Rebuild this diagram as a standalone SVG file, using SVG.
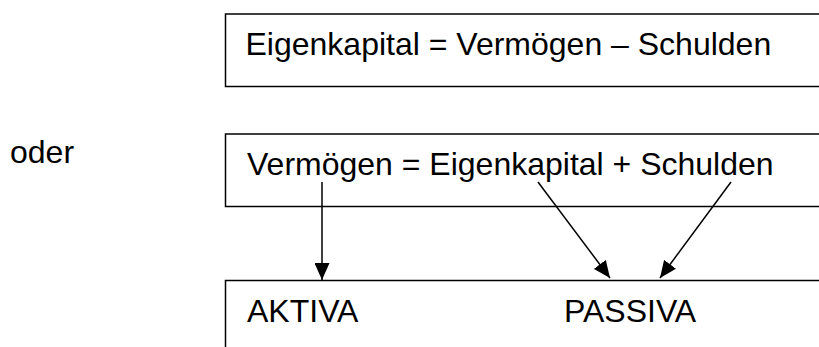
<svg xmlns="http://www.w3.org/2000/svg" width="819" height="347" viewBox="0 0 819 347">
<style>
.box{fill:#fff;stroke:#000;stroke-width:1.5}
.t{font-family:"Liberation Sans",Arial,sans-serif;font-size:32px;fill:#000}
.c{stroke:#000;stroke-width:1.5;fill:none}
</style>
<defs>
<marker id="ah" markerUnits="userSpaceOnUse" markerWidth="17" markerHeight="15" refX="17" refY="7.5" orient="auto" viewBox="0 0 17 15">
<path d="M0,0 L17,7.5 L0,15 z" fill="#000"/>
</marker>
</defs>
<rect width="819" height="347" fill="#fff"/>
<g id="eq1">
<rect class="box" x="225.5" y="14" width="620" height="72.5"/>
<text class="t" x="245.5" y="55">Eigenkapital = Vermögen – Schulden</text>
</g>
<g id="oder">
<text class="t" x="10" y="163">oder</text>
</g>
<g id="eq2">
<rect class="box" x="225.5" y="134" width="620" height="72.5"/>
<text class="t" x="247" y="175">Vermögen = Eigenkapital + Schulden</text>
</g>
<g id="bilanz">
<rect class="box" x="225.5" y="280.5" width="620" height="100"/>
<text class="t" x="247" y="321.5">AKTIVA</text>
<text class="t" x="564" y="321.5">PASSIVA</text>
</g>
<g id="connectors">
<line class="c" x1="322" y1="182" x2="322" y2="280" marker-end="url(#ah)"/>
<line class="c" x1="538" y1="182" x2="610" y2="278" marker-end="url(#ah)"/>
<line class="c" x1="731" y1="182" x2="660" y2="278" marker-end="url(#ah)"/>
</g>
</svg>
